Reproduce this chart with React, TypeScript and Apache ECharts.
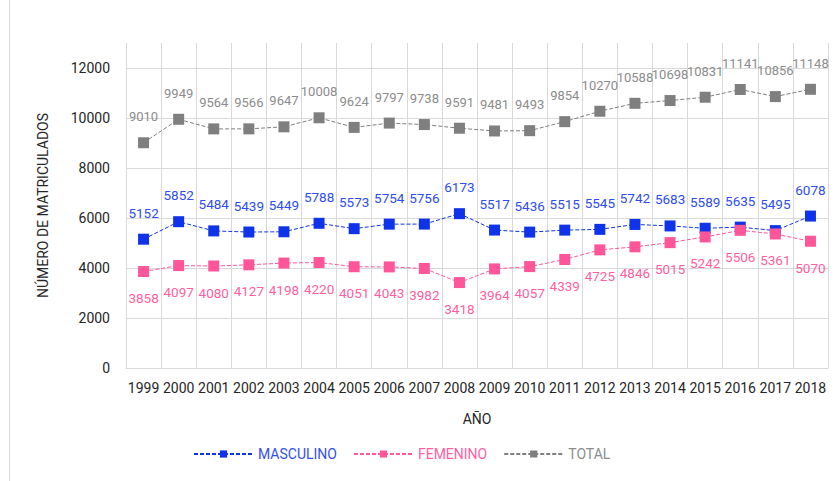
import React, { useEffect, useRef } from "react";
import * as echarts from "echarts";

const years = ["1999","2000","2001","2002","2003","2004","2005","2006","2007","2008","2009","2010","2011","2012","2013","2014","2015","2016","2017","2018"];
const masculino = [5152,5852,5484,5439,5449,5788,5573,5754,5756,6173,5517,5436,5515,5545,5742,5683,5589,5635,5495,6078];
const femenino = [3858,4097,4080,4127,4198,4220,4051,4043,3982,3418,3964,4057,4339,4725,4846,5015,5242,5506,5361,5070];
const total = [9010,9949,9564,9566,9647,10008,9624,9797,9738,9591,9481,9493,9854,10270,10588,10698,10831,11141,10856,11148];

const FONT = "Roboto, 'Liberation Sans', sans-serif";

export default function App() {
  const ref = useRef<HTMLDivElement>(null);
  useEffect(() => {
    document.body.style.margin = "0";
    if (!ref.current) return;
    const chart = echarts.init(ref.current, undefined, { renderer: "svg" });
    const mk = (name: string, data: number[], color: string, labelColor: string, pos: string, fs: number) => ({
      name,
      type: "line",
      data,
      symbol: "rect",
      symbolSize: 11,
      lineStyle: { color, width: 1, type: [4, 2] },
      itemStyle: { color },
      label: {
        show: true,
        position: pos,
        distance: 14,
        color: labelColor,
        fontSize: fs,
        fontFamily: FONT,
      },
    });
    chart.setOption({
      animation: false,
      textStyle: { fontFamily: FONT },
      grid: { left: 126, right: 10, top: 43, bottom: 113 },
      legend: {
        bottom: 15,
        left: 188,
        itemWidth: 59,
        itemHeight: 9,
        itemGap: 16,
        textStyle: { fontSize: 14, fontFamily: FONT },
        data: [
          { name: "MASCULINO", textStyle: { color: "#3350f0" } },
          { name: "FEMENINO", textStyle: { color: "#ff5fa0" } },
          { name: "TOTAL", textStyle: { color: "#8c8c8c" } },
        ],
      },
      xAxis: {
        type: "category",
        data: years,
        boundaryGap: true,
        name: "AÑO",
        nameLocation: "middle",
        nameGap: 44,
        nameTextStyle: { fontSize: 14, color: "#262626", fontFamily: FONT },
        axisLine: { lineStyle: { color: "#d9d9d9", width: 1 } },
        axisTick: { show: false },
        axisLabel: { fontSize: 14, color: "#262626", margin: 13, interval: 0, fontFamily: FONT },
        splitLine: { show: true, interval: 0, lineStyle: { color: "#d9d9d9", width: 1 } },
      },
      yAxis: {
        type: "value",
        min: 0,
        max: 13000,
        interval: 1000,
        name: "NÚMERO DE MATRICULADOS",
        nameLocation: "middle",
        nameGap: 76,
        nameTextStyle: { fontSize: 14, color: "#262626", fontFamily: FONT },
        axisLine: { show: false },
        axisTick: { show: false },
        axisLabel: {
          fontSize: 14,
          color: "#262626",
          margin: 16,
          fontFamily: FONT,
          formatter: (v: number) => (v % 2000 === 0 ? String(v) : ""),
        },
        splitLine: {
          show: true,
          lineStyle: { color: ["#d9d9d9", "rgba(0,0,0,0)"], width: 1 },
        },
      },
      graphic: [
        {
          type: "line",
          shape: { x1: 9.5, y1: 0, x2: 9.5, y2: 481 },
          style: { stroke: "#d9d9d9", lineWidth: 1 },
        },
      ],
      series: [
        mk("MASCULINO", masculino, "#0f33e8", "#2e4cf0", "top", 13.5),
        mk("FEMENINO", femenino, "#ff5599", "#ff5fa0", "bottom", 13.5),
        mk("TOTAL", total, "#7f7f7f", "#8c8c8c", "top", 13),
      ],
    });
    return () => chart.dispose();
  }, []);
  return <div ref={ref} style={{ width: 838, height: 481 }} />;
}
